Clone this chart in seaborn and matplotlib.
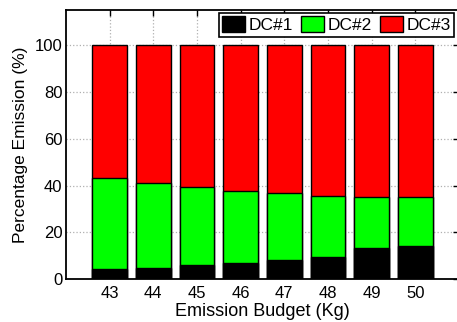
import matplotlib
matplotlib.use("Agg")
import matplotlib.pyplot as plt
import seaborn as sns
import pandas as pd
import numpy as np
from matplotlib.patches import Patch

budgets = ["43", "44", "45", "46", "47", "48", "49", "50"]
dc1 = [4.3, 4.7, 6.0, 6.8, 8.1, 9.6, 13.2, 14.3]
dc2 = [39.1, 36.6, 33.4, 30.9, 28.6, 26.1, 22.1, 21.0]
dc3 = [56.6, 58.7, 60.6, 62.3, 63.3, 64.3, 64.7, 64.7]
series_names = ["DC#1", "DC#2", "DC#3"]
series_colors = ["#000000", "#00ff00", "#ff0000"]

sns.set_style("white")
plt.rcParams["font.family"] = ["Liberation Sans", "DejaVu Sans"]
plt.rcParams["text.color"] = "black"
plt.rcParams["axes.labelcolor"] = "black"
plt.rcParams["xtick.color"] = "black"
plt.rcParams["ytick.color"] = "black"

fig = plt.figure(figsize=(4.57, 3.22), dpi=100)
ax = fig.add_axes([66 / 457, 1 - 279.3 / 322, 393 / 457, 269.3 / 322])

# cumulative heights, drawn from the tallest stack down
s1 = np.array(dc1)
s2 = s1 + np.array(dc2)
s3 = s2 + np.array(dc3)
stacks = [s3, s2, s1]
colors = series_colors[::-1]
for vals, col in zip(stacks, colors):
    df = pd.DataFrame({"budget": budgets, "value": vals})
    sns.barplot(data=df, x="budget", y="value", order=budgets, color=col,
                saturation=1, width=0.8, edgecolor="black", linewidth=1.0,
                ax=ax, zorder=3)

ax.set_xlim(-1, 8)
ax.set_ylim(0, 115)
ax.set_yticks([0, 20, 40, 60, 80, 100])
ax.grid(True, linestyle=":", color="#b0b0b0", linewidth=0.9, zorder=0)
ax.set_axisbelow(True)

for sp in ax.spines.values():
    sp.set_visible(True)
    sp.set_color("black")
    sp.set_linewidth(1.3)

ax.tick_params(axis="both", direction="in", length=4, width=1.0,
               labelsize=12, top=True, right=True, colors="black")
ax.tick_params(axis="y", pad=2.5)
ax.tick_params(axis="x", pad=5)
ax.set_xlabel("Emission Budget (Kg)", fontsize=13, labelpad=1)
ax.set_ylabel("Percentage Emission (%)", fontsize=12.5, labelpad=5)

handles = [Patch(facecolor=c, edgecolor="black", linewidth=1.0) for c in series_colors]
leg = ax.legend(handles, series_names, ncol=3, loc="upper right",
                bbox_to_anchor=(454 / 393 - 66 / 393, 1.0 - 3 / 269.3),
                bbox_transform=ax.transAxes, fontsize=12.5,
                frameon=True, fancybox=False, framealpha=1, edgecolor="black",
                handlelength=1.3, handleheight=1.0, handletextpad=0.2,
                columnspacing=0.5, borderpad=0.2, borderaxespad=0.0)
leg.get_frame().set_linewidth(1.2)

fig.savefig("out.png", dpi=100)
